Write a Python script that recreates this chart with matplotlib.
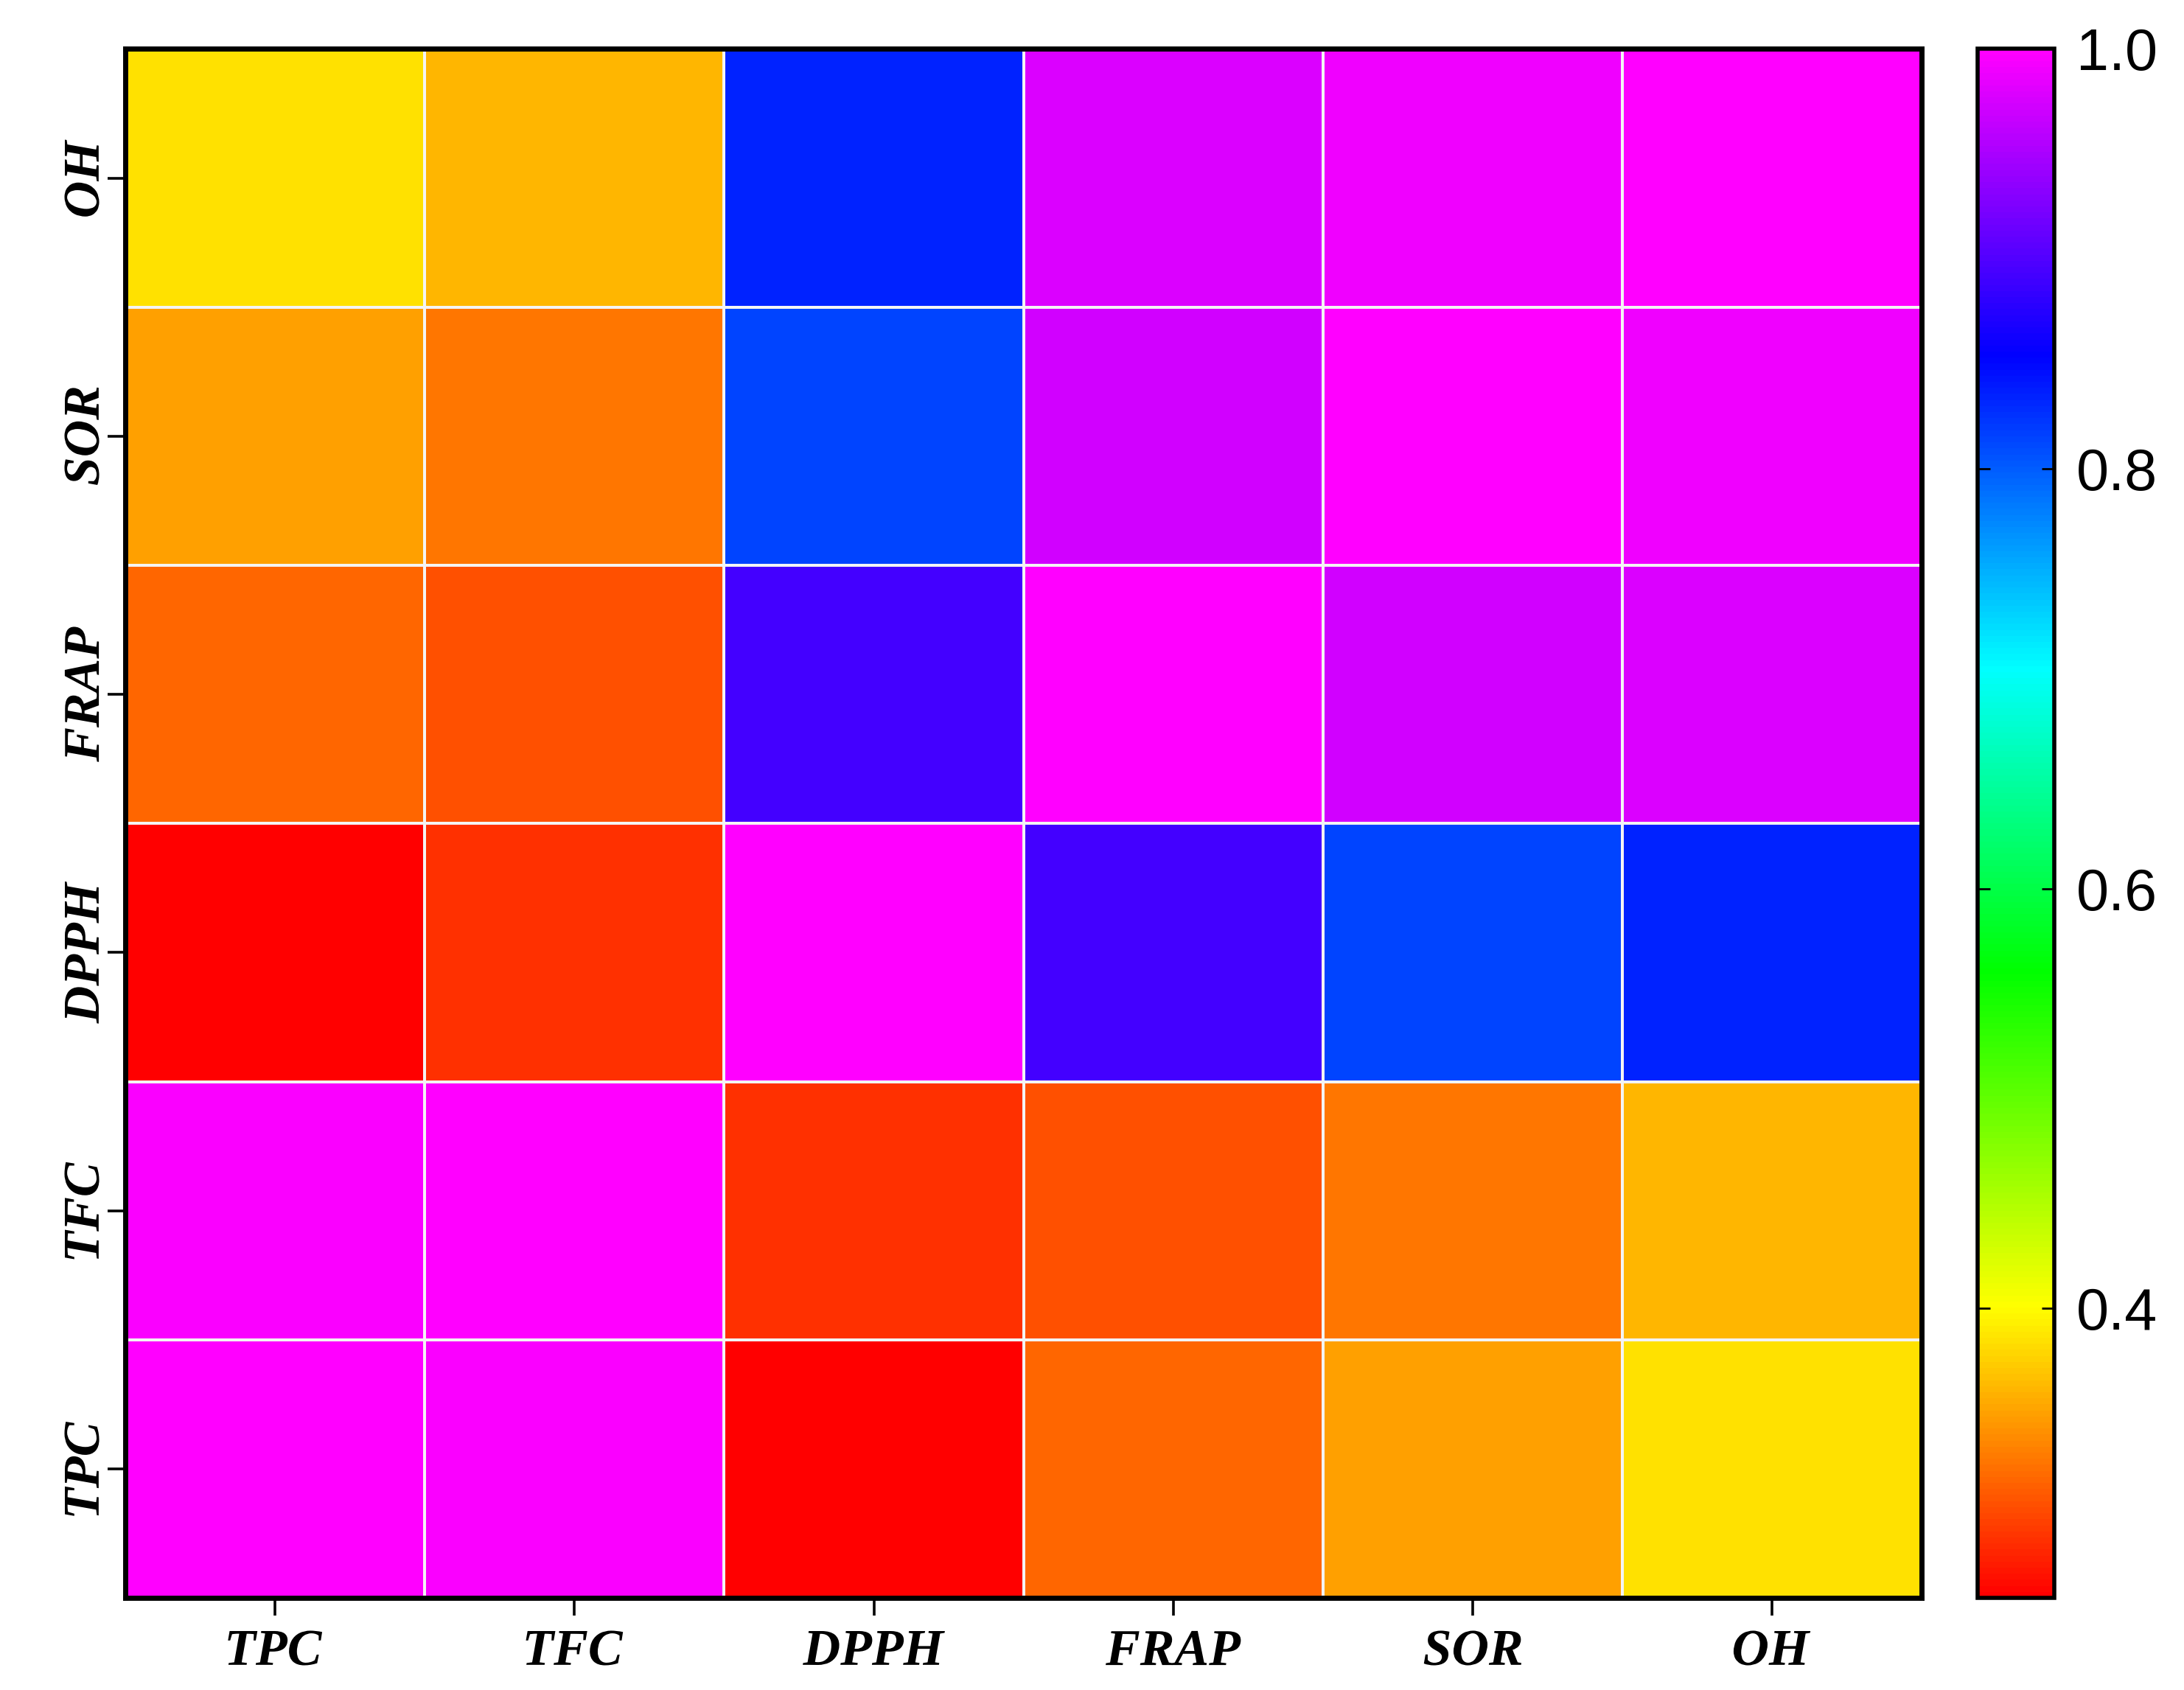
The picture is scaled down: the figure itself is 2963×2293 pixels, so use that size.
import numpy as np
import matplotlib
matplotlib.use('Agg')
import matplotlib.pyplot as plt
from matplotlib.colors import LinearSegmentedColormap
from matplotlib.font_manager import FontProperties
from matplotlib.textpath import TextPath
from matplotlib.patches import PathPatch
from matplotlib.transforms import Affine2D

labels = ['TPC', 'TFC', 'DPPH', 'FRAP', 'SOR', 'OH']

# correlation rows, bottom (TPC) to top (OH)
row_tpc = [1.000, 0.997, 0.262, 0.319, 0.350, 0.385]
row_tfc = [0.997, 1.000, 0.289, 0.308, 0.327, 0.362]
row_dpph = [0.262, 0.289, 1.000, 0.892, 0.814, 0.834]
row_frap = [0.319, 0.308, 0.892, 1.000, 0.974, 0.977]
row_sor = [0.350, 0.327, 0.814, 0.974, 1.000, 0.989]
row_oh = [0.385, 0.362, 0.834, 0.977, 0.989, 1.000]

cbar_ticks = [0.4, 0.6, 0.8, 1.0]

vmin, vmax = 0.262, 1.0
# rainbow like the Prism palette: red -> yellow -> green -> cyan -> blue -> magenta
stops = [0.262, 0.40, 0.56, 0.705, 0.855, 1.0]
colors = ['#ff0000', '#ffff00', '#00ff00', '#00ffff', '#0000ff', '#ff00ff']
cmap = LinearSegmentedColormap.from_list(
    'prism_rainbow', [((s - vmin) / (vmax - vmin), c) for s, c in zip(stops, colors)])

data = np.array([row_tpc, row_tfc, row_dpph, row_frap, row_sor, row_oh])

fig = plt.figure(figsize=(29.63, 22.93), dpi=100)
ax = fig.add_axes([0.0574, 0.0545, 0.8225, 0.9165])
mesh = ax.pcolormesh(np.arange(7), np.arange(7), data, cmap=cmap, vmin=vmin, vmax=vmax,
                     edgecolors='#f4f4f4', linewidth=1.6)
ax.set_xlim(0, 6)
ax.set_ylim(0, 6)

ax.set_xticks(np.arange(6) + 0.5)
ax.set_yticks(np.arange(6) + 0.5)
ax.set_xticklabels([])
ax.set_yticklabels([])
ax.tick_params(axis='both', direction='out', length=17, width=2.6, color='black')
for sp in ax.spines.values():
    sp.set_linewidth(5)

# tick labels drawn as paths so they sit exactly where the original has them
fp = FontProperties(family='Liberation Serif', weight='bold', style='italic')


def label_at(s, px, py, rot, height=70):
    tp = TextPath((0, 0), s, size=1, prop=fp)
    bb = tp.get_extents()
    tr = (Affine2D().translate(-(bb.x0 + bb.x1) / 2, -(bb.y0 + bb.y1) / 2)
          .scale(height).rotate_deg(rot).translate(px, py))
    fig.patches.append(PathPatch(tr.transform_path(tp), facecolor='black',
                                 edgecolor='none', transform=None, figure=fig))


H = 2293
for i, lab in enumerate(labels):
    x_px, _ = ax.transData.transform((i + 0.5, 0))
    label_at(lab, x_px, H - 2236, 0)
    _, y_px = ax.transData.transform((0, i + 0.5))
    label_at(lab, 111, y_px, 90)

cax = fig.add_axes([0.9055, 0.0545, 0.035, 0.9165])
cb = fig.colorbar(mesh, cax=cax, ticks=cbar_ticks)
cb.outline.set_linewidth(4)
cb.ax.tick_params(direction='in', length=12, width=2, right=True, left=True, pad=22)
cb.ax.set_yticklabels(['0.4', '0.6', '0.8', '1.0'], family='Liberation Sans', size=57)

fig.savefig('out.png', dpi=100)
